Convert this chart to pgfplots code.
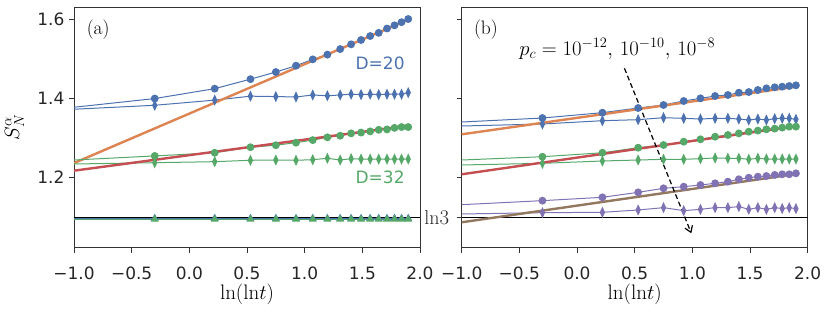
\documentclass[border=0pt]{standalone}
\usepackage{pgfplots}
\pgfplotsset{compat=1.18}
\usepackage{pgfplotstable}
\usepackage{fontspec}
\newfontfamily\dejavu{DejaVu Sans}
\usetikzlibrary{arrows.meta}
\definecolor{sblue}{HTML}{4C72B0}
\definecolor{sorange}{HTML}{DD8452}
\definecolor{sgreen}{HTML}{55A868}
\definecolor{sred}{HTML}{C44E52}
\definecolor{spurple}{HTML}{8172B3}
\definecolor{sbrown}{HTML}{937860}

\pgfplotstableread{
x      abc    abd    agc     agd     agt    abt     bbc     bbd     bgc     bgd     bpc     bpd
-1.000 1.377  1.372  1.2437  1.2336  1.0940 1.0962  1.3397  1.3296  1.2437  1.2311  1.1308  1.1073
-0.300 1.399  1.382  1.2540  1.2369  1.0940 1.0962  1.3498  1.3347  1.2520  1.2353  1.1410  1.1106
0.220  1.424  1.395  1.2620  1.2395  1.0940 1.0962  1.3633  1.3430  1.2620  1.2412  1.1494  1.1115
0.530  1.448  1.405  1.2760  1.2430  1.0940 1.0962  1.3751  1.3456  1.2748  1.2437  1.1620  1.1174
0.750  1.466  1.404  1.2810  1.2437  1.0940 1.0962  1.3827  1.3506  1.2816  1.2454  1.1722  1.1233
0.925  1.482  1.403  1.2875  1.2430  1.0940 1.0962  1.3928  1.3490  1.2900  1.2454  1.1763  1.1157
1.070  1.498  1.408  1.2940  1.2445  1.0940 1.0962  1.3996  1.3473  1.2960  1.2471  1.1806  1.1190
1.197  1.510  1.406  1.3010  1.2480  1.0940 1.0962  1.4054  1.3490  1.3026  1.2488  1.1848  1.1233
1.308  1.524  1.408  1.3050  1.2437  1.0940 1.0962  1.4080  1.3490  1.3069  1.2480  1.1889  1.1233
1.403  1.536  1.410  1.3110  1.2470  1.0940 1.0962  1.4138  1.3473  1.3110  1.2480  1.1950  1.1260
1.489  1.547  1.409  1.3130  1.2460  1.0940 1.0962  1.4155  1.3448  1.3153  1.2454  1.1990  1.1190
1.568  1.557  1.410  1.3160  1.2460  1.0940 1.0962  1.4206  1.3473  1.3180  1.2480  1.2016  1.1233
1.642  1.565  1.409  1.3200  1.2460  1.0940 1.0962  1.4248  1.3448  1.3213  1.2462  1.2033  1.1190
1.714  1.576  1.410  1.3210  1.2460  1.0940 1.0962  1.4274  1.3481  1.3230  1.2462  1.2060  1.1233
1.779  1.584  1.410  1.3250  1.2460  1.0940 1.0962  1.4290  1.3490  1.3255  1.2462  1.2076  1.1210
1.840  1.592  1.410  1.3270  1.2460  1.0940 1.0962  1.4307  1.3490  1.3280  1.2462  1.2076  1.1233
1.898  1.600  1.414  1.3270  1.2460  1.0940 1.0962  1.4324  1.3464  1.3280  1.2462  1.2100  1.1207
}\data

\pgfplotsset{
 panel/.style={
  scale only axis, width=346pt, height=240.2pt,
  xmin=-1, xmax=2, ymin=1.0226, ymax=1.6296,
  axis line style={draw=black!80, line width=0.8pt},
  tick style={draw=black!80, line width=0.8pt},
  tick align=outside, major tick length=5pt, tick pos=left,
  xtick={-1,-0.5,0,0.5,1,1.5,2},
  xticklabels={−1.0,−0.5,0.0,0.5,1.0,1.5,2.0},
  ytick={1.2,1.4,1.6},
  ticklabel style={font=\dejavu\fontsize{17}{20}\selectfont, text=black!85},
  xticklabel style={anchor=base, inner sep=0pt, yshift=-27pt},
  yticklabel style={anchor=east, inner sep=0pt, xshift=-4.4pt},
  xlabel={$\mathrm{ln}(\mathrm{ln}t)$},
  xlabel style={font=\fontsize{21}{24}\selectfont, at={(axis description cs:0.5,-0.193)}, anchor=center},
 },
 dser/.style={line width=1pt, mark indices={2,...,17}, mark options={solid, fill=#1, draw=#1}, color=#1},
 circ/.style={dser=#1, mark=*, mark size=3.4pt},
 diam/.style={dser=#1, mark=diamond*, mark size=4.5pt, mark options={xscale=0.62}},
 tri/.style={dser=#1, mark=triangle*, mark size=3.6pt},
 fit/.style={line width=2.4pt, color=#1},
}

\begin{document}
\begin{tikzpicture}
\useasboundingbox (-74pt,-63.5pt) rectangle (757pt,247.5pt);
% ---------------- (a)
\begin{axis}[panel, at={(0pt,0pt)}, anchor=south west,
  yticklabels={1.2,1.4,1.6},
  ylabel={$S_N^\alpha$},
  ylabel style={font=\fontsize{20}{22}\selectfont, at={(axis description cs:-0.172,0.5)}, anchor=center}]
\addplot[black, line width=1pt] coordinates {(-1,1.0986) (2,1.0986)};
\addplot[tri=sblue] table[x=x,y=abt] {\data};
\addplot[tri=sgreen] table[x=x,y=agt] {\data};
\addplot[circ=sblue] table[x=x,y=abc] {\data};
\addplot[diam=sblue] table[x=x,y=abd] {\data};
\addplot[fit=sorange] coordinates {(-1,1.236) (1.898,1.598)};
\addplot[circ=sgreen] table[x=x,y=agc] {\data};
\addplot[diam=sgreen] table[x=x,y=agd] {\data};
\addplot[fit=sred] coordinates {(-1,1.2167) (1.898,1.3304)};
\node[font=\fontsize{19.5}{22}\selectfont] at (axis cs:-0.79,1.572) {(a)};
\node[font=\dejavu\fontsize{17}{20}\selectfont, text=sblue, inner sep=0pt] at (axis cs:1.654,1.488) {D=20};
\node[font=\dejavu\fontsize{17}{20}\selectfont, text=sgreen, inner sep=0pt] at (axis cs:1.654,1.1995) {D=32};
\end{axis}
% ---------------- (b)
\begin{axis}[panel, at={(387.7pt,0pt)}, anchor=south west,
  yticklabels={},
  extra y ticks={1.0986},
  extra y tick labels={$\mathrm{ln}3$},
  extra y tick style={yticklabel style={font=\fontsize{20}{22}\selectfont, xshift=-3pt}}]
\addplot[black, line width=1pt] coordinates {(-1,1.0986) (2,1.0986)};
\addplot[circ=sblue] table[x=x,y=bbc] {\data};
\addplot[diam=sblue] table[x=x,y=bbd] {\data};
\addplot[fit=sorange] coordinates {(-1,1.3086) (1.898,1.429)};
\addplot[circ=sgreen] table[x=x,y=bgc] {\data};
\addplot[diam=sgreen] table[x=x,y=bgd] {\data};
\addplot[fit=sred] coordinates {(-1,1.2076) (1.898,1.3296)};
\addplot[circ=spurple] table[x=x,y=bpc] {\data};
\addplot[diam=spurple] table[x=x,y=bpd] {\data};
\addplot[fit=sbrown] coordinates {(-1,1.0863) (1.898,1.2084)};
\node[font=\fontsize{19.5}{22}\selectfont] at (axis cs:-0.79,1.572) {(b)};
\node[font=\fontsize{20}{23}\selectfont, anchor=base west, inner sep=0pt] at (axis cs:-0.502,1.509) {$p_c=10^{-12},\,10^{-10},\,10^{-8}$};
\draw[black, line width=1.2pt, dash pattern=on 5pt off 3pt, -{Straight Barb[length=6pt,width=8pt]}] (axis cs:0.411,1.4754) -- (axis cs:0.991,1.0585);
\end{axis}
\end{tikzpicture}
\end{document}
